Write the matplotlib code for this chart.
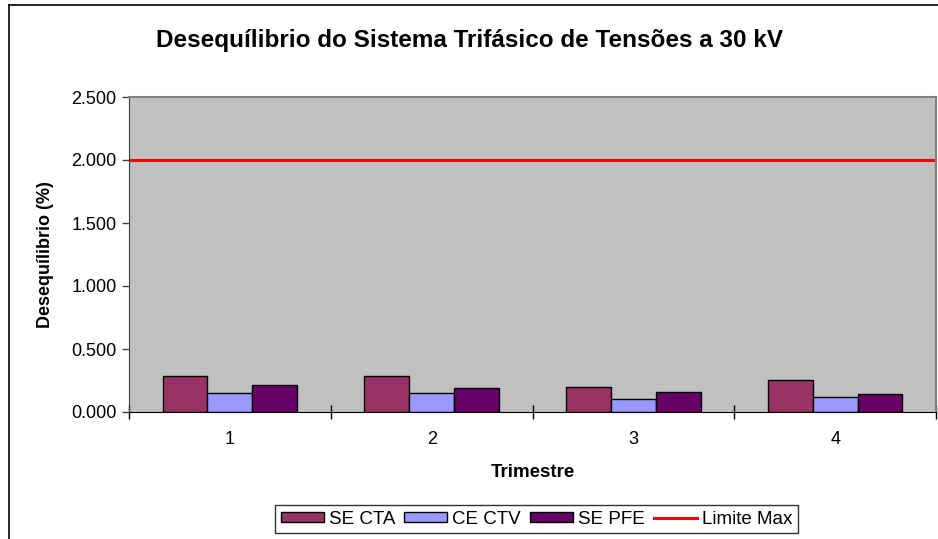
import numpy as np
import matplotlib.pyplot as plt
from matplotlib.lines import Line2D
from matplotlib.ticker import FuncFormatter

plt.rcParams['font.family'] = ['Liberation Sans', 'DejaVu Sans']

trimestres = ['1', '2', '3', '4']
se_cta = [0.283, 0.283, 0.200, 0.257]
ce_ctv = [0.148, 0.148, 0.100, 0.122]
se_pfe = [0.215, 0.190, 0.160, 0.146]
limite_max = 2.0

series = [('SE CTA', se_cta, '#993366'),
          ('CE CTV', ce_ctv, '#9999FF'),
          ('SE PFE', se_pfe, '#660066')]

fig = plt.figure(figsize=(9.38, 5.39), dpi=100)
ax = fig.add_axes([129/938, 1-412/539, (936-129)/938, (412-97)/539])
ax.set_facecolor('#C0C0C0')

x = np.arange(len(trimestres))
w = 1/4.5
handles = []
for i, (name, vals, col) in enumerate(series):
    b = ax.bar(x + (i-1)*w, vals, w, color=col, edgecolor='black', linewidth=1, label=name)
    handles.append(b)

ln = ax.axhline(limite_max, color='#FF0000', linewidth=2.2, label='Limite Max')
handles.append(ln)

ax.set_xlim(-0.5, len(trimestres)-0.5)
ax.set_ylim(0, 2.5)
ax.set_yticks(np.arange(0, 2.51, 0.5))
ax.yaxis.set_major_formatter(FuncFormatter(lambda v, p: '%.3f' % v))
ax.set_xticks(np.arange(-0.5, len(trimestres), 1))
ax.set_xticklabels([])
ax.set_xticks(x, minor=True)
ax.set_xticklabels(trimestres, minor=True)
ax.tick_params(axis='x', which='major', direction='inout', length=10, width=1, color='black')
ax.tick_params(axis='x', which='minor', length=0, labelsize=13, pad=14)
ax.tick_params(axis='y', direction='out', length=5, width=1, color='#404040', labelsize=13, pad=4)

for s in ['top', 'right']:
    ax.spines[s].set_color('#808080')
    ax.spines[s].set_linewidth(1.5)
ax.spines['left'].set_color('#404040')
ax.spines['bottom'].set_color('black')

ax.set_xlabel('Trimestre', fontsize=13.5, fontweight='bold', labelpad=11)
ax.set_ylabel('Desequílibrio (%)', fontsize=13, fontweight='bold', labelpad=12)
fig.text(0.5, 1-40/539, 'Desequílibrio do Sistema Trifásico de Tensões a 30 kV',
         ha='center', va='center', fontsize=17.5, fontweight='bold')

leg = ax.legend(handles, [h.get_label() for h in handles], loc='center',
                bbox_to_anchor=(536.5/938, 1-519/539),
                bbox_transform=fig.transFigure, ncol=4, frameon=True, fancybox=False,
                edgecolor='black', fontsize=13.5, handlelength=2.3, handleheight=0.5,
                handletextpad=0.25, columnspacing=0.5, borderpad=0.3)
leg.get_frame().set_linewidth(1)

# chart area border
fig.add_artist(Line2D([9/938, 9/938], [0, 1-5/539], color='black', linewidth=1.2))
fig.add_artist(Line2D([9/938, 1], [1-5/539, 1-5/539], color='black', linewidth=1.2))

fig.savefig('out.png', dpi=100)
